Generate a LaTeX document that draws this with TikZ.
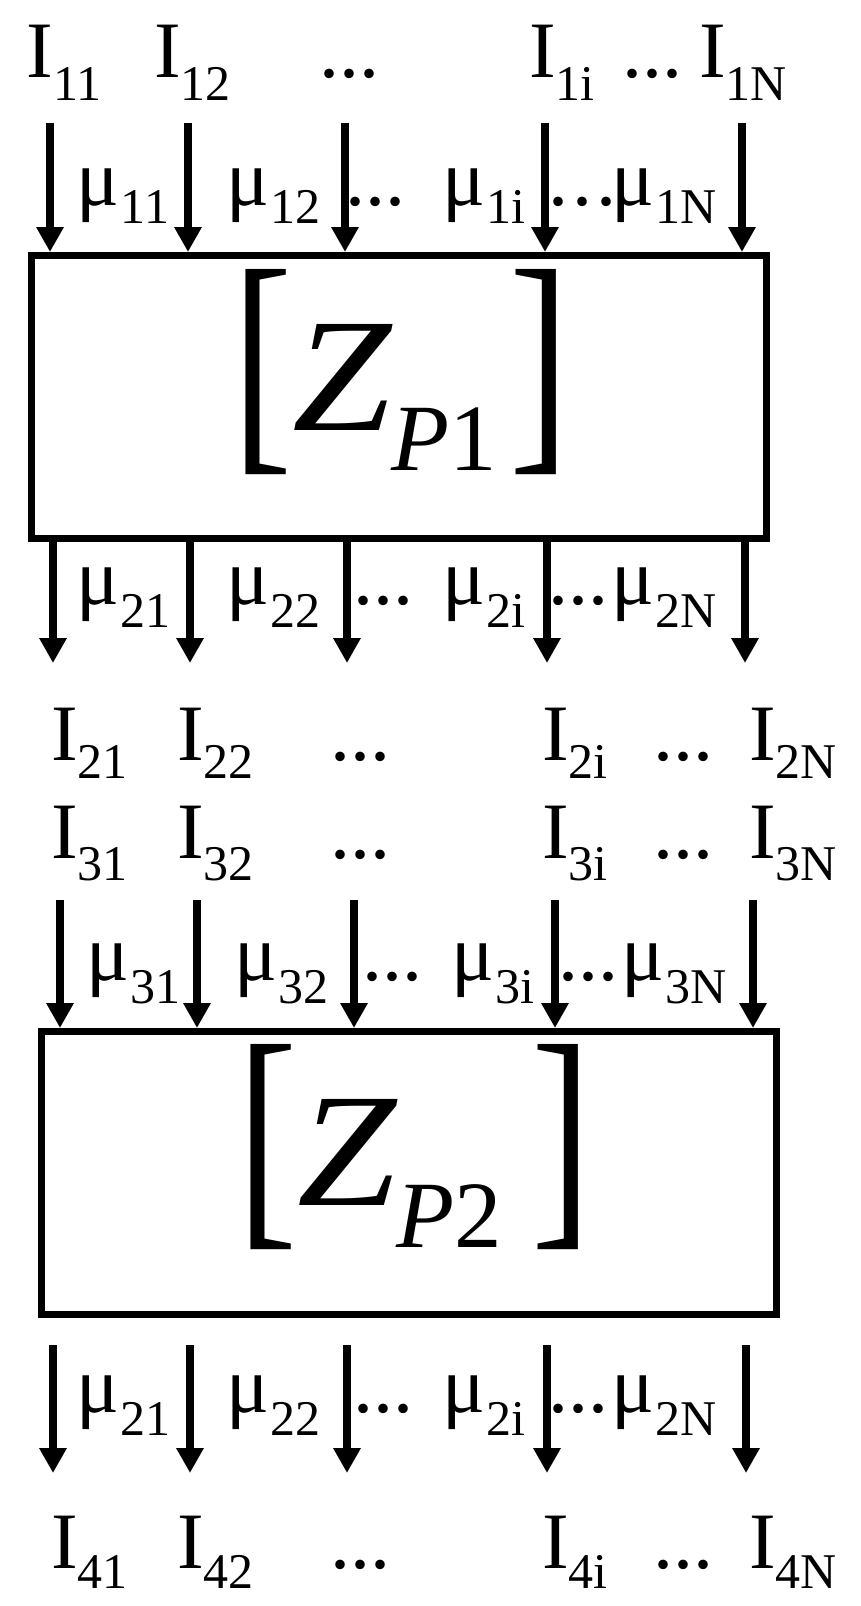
\documentclass[tikz,border=0pt]{standalone}
\usepackage{fontspec}
\setmainfont{Liberation Serif}
\usetikzlibrary{arrows.meta}
\newcommand{\bigf}{\fontsize{80}{80}\selectfont}
\newcommand{\smf}{\fontsize{50}{50}\selectfont}
\newcommand{\lb}[3]{#1\raisebox{-#3}{\smf #2}}
\newcommand{\mlb}[2]{\lb{μ\kern2pt}{#1}{#2}}
\newcommand{\brk}[2]{\raisebox{-#2}{\fontsize{248}{248}\selectfont\scalebox{0.73}[1]{#1}}}
% #1 sub digit, #2 sub drop, #3 kern Z, #4 kern P, #5 kern ]
\newcommand{\zp}[5]{\brk{[}{11pt}\kern#3{\fontsize{162}{162}\selectfont\itshape\scalebox{1.1}[1]{Z}}\kern#4\raisebox{-#2}{\fontsize{95}{95}\selectfont\itshape P\upshape #1}\kern#5\brk{]}{11pt}}
\begin{document}
\begin{tikzpicture}[x=1pt,y=-1pt,
  lab/.style={anchor=base west, inner sep=0pt, outer sep=0pt, font=\bigf},
  arr/.style={line width=8pt, -{Triangle[width=26pt,length=25pt]}},
  boxst/.style={draw, line width=7pt, minimum width=735pt, minimum height=283pt, inner sep=0pt, outer sep=3.5pt}]
\useasboundingbox (0,0) rectangle (860,1606);
\fill[white] (0,0) rectangle (860,1606);
% boxes
\node[boxst] (box1) at (399,397) {};
\node[boxst] (box2) at (409,1173) {};
% formulas
\node[lab] (zp1) at (232,430) {\zp{1}{40pt}{0pt}{0pt}{12.2pt}};
\node[lab] (zp2) at (237,1205) {\zp{2}{42pt}{0pt}{0pt}{29.2pt}};
% row A
\node[lab] (I11) at (27,77) {\lb{I}{11}{23pt}};
\node[lab] (I12) at (154,77) {\lb{I}{12}{23pt}};
\node[lab] (dA1) at (319,77) {...};
\node[lab] (I1i) at (529,77) {\lb{I}{1i}{23pt}};
\node[lab] (dA2) at (622,77) {...};
\node[lab] (I1N) at (699,77) {\lb{I}{1N}{23pt}};
% arrows row 1
\foreach \n/\x in {1/50,2/188,3/345,4/545,5/742}{
  \coordinate (a1\n) at (\x,123);
  \draw[arr] (a1\n) -- (a1\n |- box1.north);
}
% row B
\node[lab] (m11) at (76,205) {\mlb{11}{18pt}};
\node[lab] (m12) at (226,205) {\mlb{12}{18pt}};
\node[lab] (dB1) at (345,205) {...};
\node[lab] (m1i) at (442,205) {\mlb{1i}{18pt}};
\node[lab] (dB2) at (548,205) {.\kern4pt.\kern4pt.};
\node[lab] (m1N) at (611,205) {\mlb{1N}{18pt}};
% arrows row 2
\foreach \n/\x in {1/53,2/190,3/347,4/547,5/745}{
  \coordinate (a2\n) at (\x,663);
  \draw[arr] (a2\n |- box1.south) -- (a2\n);
}
% row C
\node[lab] (m21) at (76,604) {\mlb{21}{23pt}};
\node[lab] (m22) at (226,604) {\mlb{22}{23pt}};
\node[lab] (dC1) at (353,604) {...};
\node[lab] (m2i) at (442,604) {\mlb{2i}{23pt}};
\node[lab] (dC2) at (548,604) {...};
\node[lab] (m2N) at (611,604) {\mlb{2N}{23pt}};
% row D
\node[lab] (I21) at (51,760) {\lb{I}{21}{18pt}};
\node[lab] (I22) at (177,760) {\lb{I}{22}{18pt}};
\node[lab] (dD1) at (330,760) {...};
\node[lab] (I2i) at (542,760) {\lb{I}{2i}{18pt}};
\node[lab] (dD2) at (653,760) {...};
\node[lab] (I2N) at (749,760) {\lb{I}{2N}{18pt}};
% row E
\node[lab] (I31) at (51,858) {\lb{I}{31}{22pt}};
\node[lab] (I32) at (177,858) {\lb{I}{32}{22pt}};
\node[lab] (dE1) at (330,858) {...};
\node[lab] (I3i) at (542,858) {\lb{I}{3i}{22pt}};
\node[lab] (dE2) at (653,858) {...};
\node[lab] (I3N) at (749,858) {\lb{I}{3N}{22pt}};
% arrows row 3
\foreach \n/\x in {1/60,2/197,3/354,4/555,5/753}{
  \coordinate (a3\n) at (\x,900);
  \draw[arr] (a3\n) -- (a3\n |- box2.north);
}
% row F
\node[lab] (m31) at (86,980) {\mlb{31}{23pt}};
\node[lab] (m32) at (234,980) {\mlb{32}{23pt}};
\node[lab] (dF1) at (362,980) {...};
\node[lab] (m3i) at (451,980) {\mlb{3i}{23pt}};
\node[lab] (dF2) at (558,980) {...};
\node[lab] (m3N) at (621,980) {\mlb{3N}{23pt}};
% arrows row 4
\foreach \n/\x in {1/53,2/190,3/347,4/547,5/746}{
  \coordinate (s4\n) at (\x,1345);
  \coordinate (a4\n) at (\x,1473);
  \draw[arr] (s4\n) -- (a4\n);
}
% row G
\node[lab] (m41) at (76,1412) {\mlb{21}{23pt}};
\node[lab] (m42) at (226,1412) {\mlb{22}{23pt}};
\node[lab] (dG1) at (353,1412) {...};
\node[lab] (m4i) at (442,1412) {\mlb{2i}{23pt}};
\node[lab] (dG2) at (548,1412) {...};
\node[lab] (m4N) at (611,1412) {\mlb{2N}{23pt}};
% row H
\node[lab] (I41) at (51,1568) {\lb{I}{41}{20pt}};
\node[lab] (I42) at (177,1568) {\lb{I}{42}{20pt}};
\node[lab] (dH1) at (330,1568) {...};
\node[lab] (I4i) at (542,1568) {\lb{I}{4i}{20pt}};
\node[lab] (dH2) at (653,1568) {...};
\node[lab] (I4N) at (749,1568) {\lb{I}{4N}{20pt}};
\end{tikzpicture}
\end{document}
